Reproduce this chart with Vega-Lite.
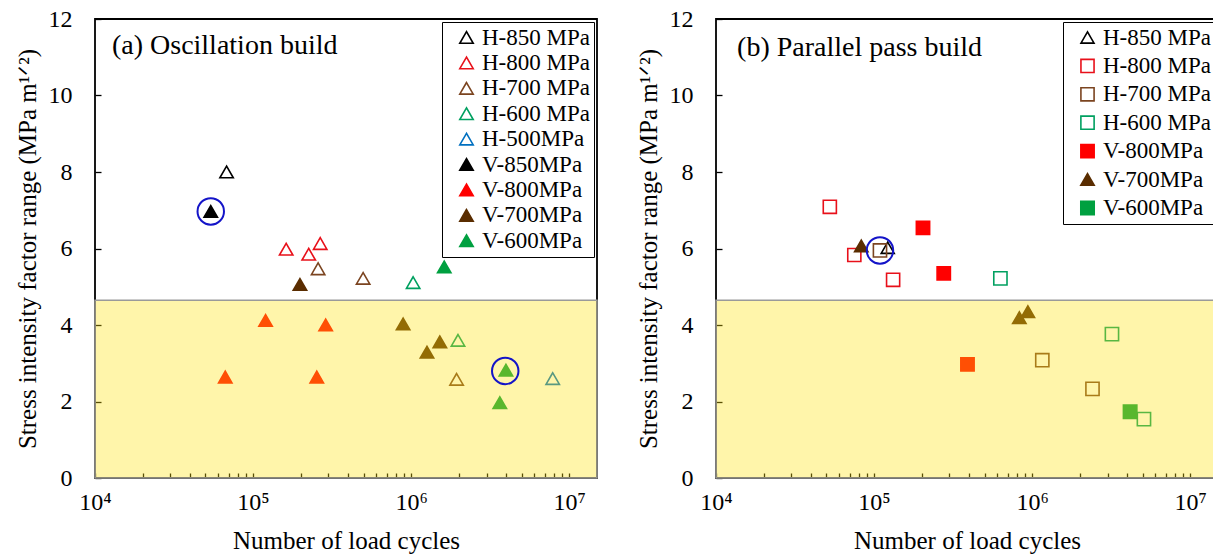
{
  "$schema": "https://vega.github.io/schema/vega-lite/v6.json",
  "background": "white",
  "padding": {"left": 14, "top": 6, "right": 0, "bottom": 0},
  "config": {
    "font": "Liberation Serif",
    "view": {"stroke": "black", "strokeWidth": 1.8},
    "concat": {"spacing": 36},
    "axis": {
      "labelFont": "Liberation Serif", "labelFontSize": 24, "labelColor": "black",
      "titleFont": "Liberation Serif", "titleFontSize": 25, "titleFontWeight": "normal", "titleColor": "black",
      "domain": false, "tickColor": "black", "tickWidth": 1.3,
      "grid": false, "zindex": 1, "labelOverlap": false, "labelFlush": false, "labelBound": false
    },
    "legend": {
      "labelFont": "Liberation Serif", "labelFontSize": 23, "labelColor": "black",
      "strokeColor": "black", "fillColor": "white", "padding": 4, "symbolStrokeWidth": 1.6,
      "symbolOffset": 9, "labelOffset": 4, "labelLimit": 300
    }
  },
  "resolve": {
    "scale": {"shape": "independent", "stroke": "independent", "fill": "independent", "size": "independent"},
    "legend": {"shape": "independent", "stroke": "independent", "fill": "independent", "size": "independent"}
  },
  "hconcat": [
    {
      "width": 502, "height": 459,
      "data": {"values": [
        {"series": "H-850 MPa", "cycles": 68000, "dK": 8.0},
        {"series": "V-850MPa", "cycles": 54000, "dK": 6.97},
        {"series": "H-800 MPa", "cycles": 162000, "dK": 5.98},
        {"series": "H-800 MPa", "cycles": 225000, "dK": 5.85},
        {"series": "H-800 MPa", "cycles": 266000, "dK": 6.13},
        {"series": "H-700 MPa", "cycles": 258000, "dK": 5.47},
        {"series": "H-700 MPa", "cycles": 497000, "dK": 5.22},
        {"series": "H-700 MPa", "cycles": 1940000, "dK": 2.58},
        {"series": "H-600 MPa", "cycles": 1030000, "dK": 5.11},
        {"series": "H-600 MPa", "cycles": 1980000, "dK": 3.6},
        {"series": "H-500MPa", "cycles": 7870000, "dK": 2.6},
        {"series": "V-600MPa", "cycles": 1620000, "dK": 5.52},
        {"series": "V-600MPa", "cycles": 3980000, "dK": 2.82},
        {"series": "V-600MPa", "cycles": 3640000, "dK": 1.97},
        {"series": "V-700MPa", "cycles": 198000, "dK": 5.06},
        {"series": "V-700MPa", "cycles": 890000, "dK": 4.03},
        {"series": "V-700MPa", "cycles": 1520000, "dK": 3.56},
        {"series": "V-700MPa", "cycles": 1260000, "dK": 3.29},
        {"series": "V-800MPa", "cycles": 120000, "dK": 4.12},
        {"series": "V-800MPa", "cycles": 288000, "dK": 4.0},
        {"series": "V-800MPa", "cycles": 66700, "dK": 2.64},
        {"series": "V-800MPa", "cycles": 253000, "dK": 2.64}
      ]},
      "layer": [
        {
          "mark": {"type": "point", "opacity": 1, "strokeWidth": 1.6},
          "encoding": {
            "x": {"field": "cycles", "type": "quantitative",
              "scale": {"type": "log", "domain": [10000, 15000000], "nice": false},
              "axis": {
                "title": "Number of load cycles",
                "values": [10000,20000,30000,40000,50000,60000,70000,80000,90000,100000,200000,300000,400000,500000,600000,700000,800000,900000,1000000,2000000,3000000,4000000,5000000,6000000,7000000,8000000,9000000,10000000],
                "labelExpr": "datum.value == 10000 ? '10⁴' : datum.value == 100000 ? '10⁵' : datum.value == 1000000 ? '10⁶' : datum.value == 10000000 ? '10⁷' : ''",
                "offset": -5, "tickSize": 5, "labelPadding": 12, "titlePadding": 14
              }},
            "y": {"field": "dK", "type": "quantitative",
              "scale": {"domain": [0, 12], "nice": false},
              "axis": {
                "title": "Stress intensity factor range (MPa m¹ᐟ²)",
                "values": [0,0.5,1,1.5,2,2.5,3,3.5,4,4.5,5,5.5,6,6.5,7,7.5,8,8.5,9,9.5,10,10.5,11,11.5,12],
                "labelExpr": "datum.value % 2 === 0 ? datum.label : ''",
                "offset": -6, "tickSize": 6, "labelPadding": 23, "titlePadding": 8
              }},
            "shape": {"field": "series", "type": "nominal",
              "scale": {"domain": ["H-850 MPa","H-800 MPa","H-700 MPa","H-600 MPa","H-500MPa","V-850MPa","V-800MPa","V-700MPa","V-600MPa"],
                        "range": ["triangle-up","triangle-up","triangle-up","triangle-up","triangle-up","triangle-up","triangle-up","triangle-up","triangle-up"]},
              "legend": {"title": null, "orient": "top-right", "offset": 3, "rowPadding": 1.4}},
            "stroke": {"field": "series", "type": "nominal",
              "scale": {"domain": ["H-850 MPa","H-800 MPa","H-700 MPa","H-600 MPa","H-500MPa","V-850MPa","V-800MPa","V-700MPa","V-600MPa"],
                        "range": ["#000000","#E8101A","#7B4420","#00A060","#0070C0","#000000","#FF0000","#5A2D00","#00A040"]},
              "legend": {"title": null, "orient": "top-right", "offset": 3, "rowPadding": 1.4}},
            "fill": {"field": "series", "type": "nominal",
              "scale": {"domain": ["H-850 MPa","H-800 MPa","H-700 MPa","H-600 MPa","H-500MPa","V-850MPa","V-800MPa","V-700MPa","V-600MPa"],
                        "range": ["transparent","transparent","transparent","transparent","transparent","#000000","#FF0000","#5A2D00","#00A040"]},
              "legend": {"title": null, "orient": "top-right", "offset": 3, "rowPadding": 1.4}},
            "size": {"field": "series", "type": "nominal",
              "scale": {"domain": ["H-850 MPa","H-800 MPa","H-700 MPa","H-600 MPa","H-500MPa","V-850MPa","V-800MPa","V-700MPa","V-600MPa"],
                        "range": [180,180,180,180,180,210,210,210,210]},
              "legend": {"title": null, "orient": "top-right", "offset": 3, "rowPadding": 1.4}}
          }
        },
        {
          "data": {"values": [{}]},
          "mark": {"type": "rect", "fill": "#FFE20C", "fillOpacity": 0.35, "stroke": "#9a9a9a", "strokeWidth": 1.5},
          "encoding": {
            "x": {"datum": 10000, "type": "quantitative"}, "x2": {"datum": 15000000},
            "y": {"datum": 0, "type": "quantitative"}, "y2": {"datum": 4.65}
          }
        },
        {
          "data": {"values": [{"cycles": 54000, "dK": 6.97}, {"cycles": 3940000, "dK": 2.8}]},
          "mark": {"type": "point", "shape": "circle", "size": 700, "filled": false, "stroke": "#1414C8", "strokeWidth": 2, "opacity": 1},
          "encoding": {
            "x": {"field": "cycles", "type": "quantitative"},
            "y": {"field": "dK", "type": "quantitative"}
          }
        },
        {
          "data": {"values": [{"label": "(a) Oscillation build"}]},
          "mark": {"type": "text", "align": "left", "baseline": "middle", "fontSize": 28, "font": "Liberation Serif", "color": "black"},
          "encoding": {
            "x": {"datum": 12800, "type": "quantitative"},
            "y": {"datum": 11.3, "type": "quantitative"},
            "text": {"field": "label"}
          }
        }
      ]
    },
    {
      "width": 502, "height": 459,
      "data": {"values": [
        {"series": "H-850 MPa", "cycles": 122000, "dK": 6.02},
        {"series": "H-800 MPa", "cycles": 52500, "dK": 7.09},
        {"series": "H-800 MPa", "cycles": 75000, "dK": 5.83},
        {"series": "H-800 MPa", "cycles": 132000, "dK": 5.18},
        {"series": "H-700 MPa", "cycles": 109000, "dK": 5.95},
        {"series": "H-700 MPa", "cycles": 1160000, "dK": 3.08},
        {"series": "H-700 MPa", "cycles": 2410000, "dK": 2.33},
        {"series": "H-600 MPa", "cycles": 630000, "dK": 5.22},
        {"series": "H-600 MPa", "cycles": 3200000, "dK": 3.76},
        {"series": "H-600 MPa", "cycles": 5100000, "dK": 1.54},
        {"series": "V-800MPa", "cycles": 204000, "dK": 6.54},
        {"series": "V-800MPa", "cycles": 276000, "dK": 5.35},
        {"series": "V-800MPa", "cycles": 390000, "dK": 2.97},
        {"series": "V-700MPa", "cycles": 83000, "dK": 6.07},
        {"series": "V-700MPa", "cycles": 830000, "dK": 4.19},
        {"series": "V-700MPa", "cycles": 940000, "dK": 4.35},
        {"series": "V-600MPa", "cycles": 4170000, "dK": 1.73}
      ]},
      "layer": [
        {
          "mark": {"type": "point", "opacity": 1, "strokeWidth": 1.6},
          "encoding": {
            "x": {"field": "cycles", "type": "quantitative",
              "scale": {"type": "log", "domain": [10000, 15000000], "nice": false},
              "axis": {
                "title": "Number of load cycles",
                "values": [10000,20000,30000,40000,50000,60000,70000,80000,90000,100000,200000,300000,400000,500000,600000,700000,800000,900000,1000000,2000000,3000000,4000000,5000000,6000000,7000000,8000000,9000000,10000000],
                "labelExpr": "datum.value == 10000 ? '10⁴' : datum.value == 100000 ? '10⁵' : datum.value == 1000000 ? '10⁶' : datum.value == 10000000 ? '10⁷' : ''",
                "offset": -5, "tickSize": 5, "labelPadding": 12, "titlePadding": 14
              }},
            "y": {"field": "dK", "type": "quantitative",
              "scale": {"domain": [0, 12], "nice": false},
              "axis": {
                "title": "Stress intensity factor range (MPa m¹ᐟ²)",
                "values": [0,0.5,1,1.5,2,2.5,3,3.5,4,4.5,5,5.5,6,6.5,7,7.5,8,8.5,9,9.5,10,10.5,11,11.5,12],
                "labelExpr": "datum.value % 2 === 0 ? datum.label : ''",
                "offset": -6, "tickSize": 6, "labelPadding": 23, "titlePadding": 8
              }},
            "shape": {"field": "series", "type": "nominal",
              "scale": {"domain": ["H-850 MPa","H-800 MPa","H-700 MPa","H-600 MPa","V-800MPa","V-700MPa","V-600MPa"],
                        "range": ["triangle-up","square","square","square","square","triangle-up","square"]},
              "legend": {"title": null, "orient": "top-right", "offset": 3, "rowPadding": 4.4}},
            "stroke": {"field": "series", "type": "nominal",
              "scale": {"domain": ["H-850 MPa","H-800 MPa","H-700 MPa","H-600 MPa","V-800MPa","V-700MPa","V-600MPa"],
                        "range": ["#000000","#E8101A","#7B4420","#00A060","#FF0000","#5A2D00","#00A040"]},
              "legend": {"title": null, "orient": "top-right", "offset": 3, "rowPadding": 4.4}},
            "fill": {"field": "series", "type": "nominal",
              "scale": {"domain": ["H-850 MPa","H-800 MPa","H-700 MPa","H-600 MPa","V-800MPa","V-700MPa","V-600MPa"],
                        "range": ["transparent","transparent","transparent","transparent","#FF0000","#5A2D00","#00A040"]},
              "legend": {"title": null, "orient": "top-right", "offset": 3, "rowPadding": 4.4}},
            "size": {"field": "series", "type": "nominal",
              "scale": {"domain": ["H-850 MPa","H-800 MPa","H-700 MPa","H-600 MPa","V-800MPa","V-700MPa","V-600MPa"],
                        "range": [170,180,180,180,200,200,200]},
              "legend": {"title": null, "orient": "top-right", "offset": 3, "rowPadding": 4.4}}
          }
        },
        {
          "data": {"values": [{}]},
          "mark": {"type": "rect", "fill": "#FFE20C", "fillOpacity": 0.35, "stroke": "#9a9a9a", "strokeWidth": 1.5},
          "encoding": {
            "x": {"datum": 10000, "type": "quantitative"}, "x2": {"datum": 15000000},
            "y": {"datum": 0, "type": "quantitative"}, "y2": {"datum": 4.65}
          }
        },
        {
          "data": {"values": [{"cycles": 109000, "dK": 5.95}]},
          "mark": {"type": "point", "shape": "circle", "size": 700, "filled": false, "stroke": "#1414C8", "strokeWidth": 2, "opacity": 1},
          "encoding": {
            "x": {"field": "cycles", "type": "quantitative"},
            "y": {"field": "dK", "type": "quantitative"}
          }
        },
        {
          "data": {"values": [{"label": "(b) Parallel pass build"}]},
          "mark": {"type": "text", "align": "left", "baseline": "middle", "fontSize": 28, "font": "Liberation Serif", "color": "black"},
          "encoding": {
            "x": {"datum": 13600, "type": "quantitative"},
            "y": {"datum": 11.25, "type": "quantitative"},
            "text": {"field": "label"}
          }
        }
      ]
    }
  ]
}
